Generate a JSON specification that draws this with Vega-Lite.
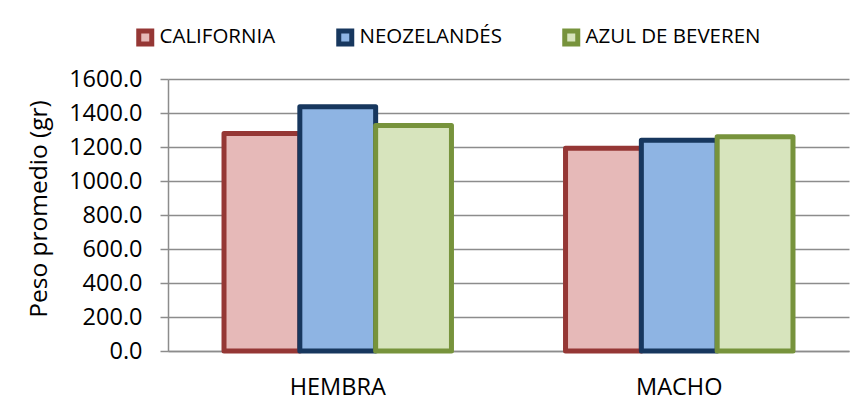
{
  "$schema": "https://vega.github.io/schema/vega-lite/v6.json",
  "width": 681,
  "height": 272,
  "autosize": {"type": "none"},
  "padding": {"left": 168, "top": 79, "right": 6, "bottom": 49},
  "background": "white",
  "data": {
    "values": [
      {"sexo": "HEMBRA", "raza": "CALIFORNIA", "peso": 1280},
      {"sexo": "HEMBRA", "raza": "NEOZELANDÉS", "peso": 1437},
      {"sexo": "HEMBRA", "raza": "AZUL DE BEVEREN", "peso": 1327},
      {"sexo": "MACHO", "raza": "CALIFORNIA", "peso": 1193},
      {"sexo": "MACHO", "raza": "NEOZELANDÉS", "peso": 1240},
      {"sexo": "MACHO", "raza": "AZUL DE BEVEREN", "peso": 1261}
    ]
  },
  "mark": {"type": "bar", "strokeWidth": 5, "strokeJoin": "round", "opacity": 1, "fillOpacity": 1},
  "encoding": {
    "x": {
      "field": "sexo", "type": "nominal", "sort": ["HEMBRA", "MACHO"],
      "scale": {"paddingInner": 0.334, "paddingOuter": 0.164},
      "axis": {
        "title": null, "labelAngle": 0, "ticks": false, "tickSize": 0,
        "domain": true, "domainColor": "#8c8c8c", "domainWidth": 1.5,
        "labelFont": "Open Sans", "labelFontSize": 23.5, "labelColor": "#000000", "labelPadding": 24
      }
    },
    "xOffset": {
      "field": "raza", "type": "nominal",
      "sort": ["CALIFORNIA", "NEOZELANDÉS", "AZUL DE BEVEREN"],
      "scale": {"paddingInner": 0, "paddingOuter": 0}
    },
    "y": {
      "field": "peso", "type": "quantitative", "stack": null,
      "scale": {"domain": [0, 1600], "nice": false},
      "axis": {
        "values": [0, 200, 400, 600, 800, 1000, 1200, 1400, 1600],
        "format": ".1f",
        "title": "Peso promedio (gr)",
        "domain": true, "domainColor": "#8c8c8c", "domainWidth": 1.5,
        "ticks": true, "tickColor": "#8c8c8c", "tickSize": 8, "tickWidth": 1.5,
        "grid": true, "gridColor": "#8c8c8c", "gridWidth": 1.5,
        "labelFont": "Open Sans", "labelFontSize": 23.5, "labelColor": "#000000", "labelPadding": 18,
        "titleFont": "Open Sans", "titleFontSize": 24.5, "titleFontWeight": "normal", "titleColor": "#000000",
        "titleX": -129, "titleY": 129.5, "titleAngle": -90, "titleAlign": "center", "titleBaseline": "middle"
      }
    },
    "fill": {
      "field": "raza", "type": "nominal",
      "scale": {"domain": ["CALIFORNIA", "NEOZELANDÉS", "AZUL DE BEVEREN"], "range": ["#E6B9B8", "#8EB4E3", "#D7E4BD"]},
      "legend": {
        "orient": "none", "legendX": -33, "legendY": -52, "direction": "horizontal", "title": null,
        "symbolType": "square", "symbolSize": 169, "symbolStrokeWidth": 5,
        "labelFont": "Open Sans", "labelFontSize": 20.5, "labelColor": "#000000", "labelLimit": 400,
        "columnPadding": 52, "labelOffset": 4, "padding": 0
      }
    },
    "stroke": {
      "field": "raza", "type": "nominal",
      "scale": {"domain": ["CALIFORNIA", "NEOZELANDÉS", "AZUL DE BEVEREN"], "range": ["#953735", "#17375E", "#77933C"]},
      "legend": {
        "orient": "none", "legendX": -33, "legendY": -52, "direction": "horizontal", "title": null,
        "symbolType": "square", "symbolSize": 169, "symbolStrokeWidth": 5,
        "labelFont": "Open Sans", "labelFontSize": 20.5, "labelColor": "#000000", "labelLimit": 400,
        "columnPadding": 52, "labelOffset": 4, "padding": 0
      }
    }
  },
  "config": {"view": {"stroke": null}}
}
